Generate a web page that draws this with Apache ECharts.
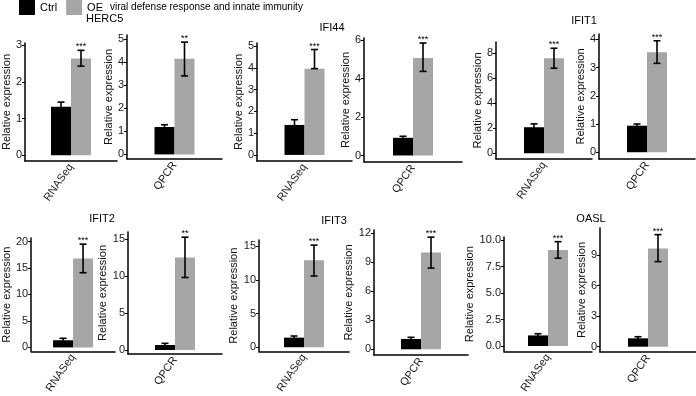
<!DOCTYPE html>
<html>
<head>
<meta charset="utf-8">
<script src="https://cdn.jsdelivr.net/npm/echarts@6/dist/echarts.min.js"></script>
<style>
  html, body { margin: 0; padding: 0; background: #fff; }
  #main { width: 696px; height: 396px; }
</style>
</head>
<body>
<div id="main"></div>
<script>
// data, one entry per panel (gene x method)
var genes = ['HERC5', 'IFI44', 'IFIT1', 'IFIT2', 'IFIT3', 'OASL'];
var methods = ['RNASeq', 'QPCR'];
var ctrlMean = [1.32, 1.19, 1.38, 0.92, 2.08, 0.94, 1.35, 0.68, 1.43, 1.07, 1.00, 0.82];
var ctrlLow  = [1.19, 1.09, 1.14, 0.84, 1.81, 0.88, 0.98, 0.46, 1.19, 0.90, 0.84, 0.66];
var ctrlHigh = [1.45, 1.29, 1.62, 1.00, 2.35, 1.00, 1.72, 0.90, 1.67, 1.24, 1.16, 0.98];
var oeMean   = [2.64, 4.16, 3.97, 5.08, 7.60, 3.54, 16.8, 12.5, 12.95, 10.0, 9.06, 9.65];
var oeLow    = [2.43, 3.41, 3.97, 4.38, 6.80, 3.15, 14.1, 9.8, 10.6, 8.4, 8.28, 8.35];
var oeHigh   = [2.86, 4.88, 4.85, 5.86, 8.40, 3.95, 19.5, 15.25, 15.2, 11.6, 9.84, 11.0];
var stars    = ['***', '**', '***', '***', '***', '***', '***', '**', '***', '***', '***', '***'];
var yTicks = [
  [0, 1, 2, 3], [0, 1, 2, 3, 4, 5],
  [0, 1, 2, 3, 4, 5], [0, 2, 4, 6],
  [0, 2, 4, 6, 8], [0, 1, 2, 3, 4],
  [0, 5, 10, 15, 20], [0, 5, 10, 15],
  [0, 5, 10, 15], [0, 3, 6, 9, 12],
  [0, 2.5, 5, 7.5, 10], [0, 3, 6, 9]
];
var labelDigits = [0, 0, 0, 0, 0, 0, 0, 0, 0, 0, 1, 0];

// layout of each small panel: [left, top, width, height, yMin, yMax, nameGap]
var layout = [
  [22, 43, 95, 118, -0.155, 3.06, 10],
  [127, 35, 95, 124, -0.2, 5.19, 10.5],
  [257, 43, 95, 118, -0.28, 5.15, 10],
  [364, 38, 98, 124, -0.34, 6.12, 9],
  [496, 42, 96, 117, -0.46, 8.9, 9.5],
  [599, 34, 96, 125, -0.24, 4.19, 9.5],
  [25, 238, 90, 116, -0.74, 20.66, 13],
  [128, 232, 94, 122, -0.54, 15.95, 12.5],
  [259, 240, 90, 116, -0.61, 15.96, 13],
  [374, 230, 94, 125, -0.59, 12.34, 13],
  [504, 237, 88, 115, -0.5, 10.28, 20],
  [600, 228, 96, 124, -0.52, 11.65, 12]
];
// gene title positions [x, y, align]
var titlePos = [[86, 19, 'left'], [332, 28, 'center'], [584, 21, 'center'],
                [102, 219, 'center'], [334, 221, 'center'], [591, 219, 'center']];

var FONT = '"Liberation Sans", Arial, sans-serif';
var BAR_W = 20;

function makeErr(i) {
  return function (params, api) {
    var side = api.value(3);
    var hi = api.coord([api.value(0), api.value(2)]);
    var lo = api.coord([api.value(0), api.value(1)]);
    var x = hi[0] + side * BAR_W / 2;
    var cap = 3.5;
    var st = { stroke: '#000', lineWidth: 1.6 };
    var kids = [
      { type: 'line', shape: { x1: x, y1: hi[1], x2: x, y2: lo[1] }, style: st },
      { type: 'line', shape: { x1: x - cap, y1: hi[1], x2: x + cap, y2: hi[1] }, style: st },
      { type: 'line', shape: { x1: x - cap, y1: lo[1], x2: x + cap, y2: lo[1] }, style: st }
    ];
    if (side > 0) {
      kids.push({
        type: 'text',
        style: { text: stars[i], x: x, y: hi[1] + 1, align: 'center', verticalAlign: 'bottom',
                 fontSize: 9, fontFamily: FONT, fill: '#000' }
      });
    }
    return { type: 'group', children: kids };
  };
}

var grids = [], xAxes = [], yAxes = [], series = [];
for (var i = 0; i < 12; i++) {
  var L = layout[i];
  grids.push({ left: L[0], top: L[1], width: L[2], height: L[3] });
  xAxes.push({
    type: 'category', gridIndex: i, data: [methods[i % 2]],
    axisLine: { onZero: false, lineStyle: { color: '#000', width: 1.5 } },
    axisTick: { alignWithLabel: true, length: 3, lineStyle: { color: '#000' } },
    axisLabel: { rotate: 55, margin: 4, fontSize: 11, color: '#1a1a1a', fontFamily: FONT }
  });
  (function (d) {
    yAxes.push({
      type: 'value', gridIndex: i, min: L[4], max: L[5],
      axisLine: { show: true, lineStyle: { color: '#000', width: 1.5 } },
      axisTick: { show: true, length: 3, customValues: yTicks[i], lineStyle: { color: '#000' } },
      axisLabel: { customValues: yTicks[i], fontSize: 11, color: '#1a1a1a', margin: 3, fontFamily: FONT,
                   formatter: function (v) { return v.toFixed(d); } },
      splitLine: { show: false },
      name: 'Relative expression', nameLocation: 'middle', nameGap: L[6],
      nameTextStyle: { fontSize: 11, color: '#111', fontFamily: FONT }
    });
  })(labelDigits[i]);
  series.push({
    name: 'Ctrl', type: 'bar', xAxisIndex: i, yAxisIndex: i, data: [ctrlMean[i]],
    barWidth: BAR_W, barGap: '0%', itemStyle: { color: '#000' }, silent: true
  });
  series.push({
    name: 'OE', type: 'bar', xAxisIndex: i, yAxisIndex: i, data: [oeMean[i]],
    barWidth: BAR_W, barGap: '0%', itemStyle: { color: '#a6a6a6' }, silent: true
  });
  series.push({
    type: 'custom', xAxisIndex: i, yAxisIndex: i, z: 5, silent: true,
    renderItem: makeErr(i),
    data: [[0, ctrlLow[i], ctrlHigh[i], -1], [0, oeLow[i], oeHigh[i], 1]]
  });
}

var graphics = [{
  type: 'text', x: 110, y: 7,
  style: { text: 'viral defense response and innate immunity', fontSize: 10, fontFamily: FONT,
           fill: '#000', verticalAlign: 'middle' }
}];
genes.forEach(function (g, k) {
  graphics.push({
    type: 'text', x: titlePos[k][0], y: titlePos[k][1],
    style: { text: g, fontSize: 11, fontFamily: FONT, fill: '#000',
             align: titlePos[k][2], verticalAlign: 'middle' }
  });
});

var chart = echarts.init(document.getElementById('main'));
chart.setOption({
  animation: false,
  backgroundColor: '#fff',
  legend: {
    data: ['Ctrl', 'OE'], left: 19, top: 0, padding: 0, icon: 'rect',
    itemWidth: 16, itemHeight: 15, itemGap: 9,
    textStyle: { fontSize: 11, color: '#000', fontFamily: FONT }
  },
  grid: grids,
  xAxis: xAxes,
  yAxis: yAxes,
  series: series,
  graphic: graphics
});
</script>
</body>
</html>
